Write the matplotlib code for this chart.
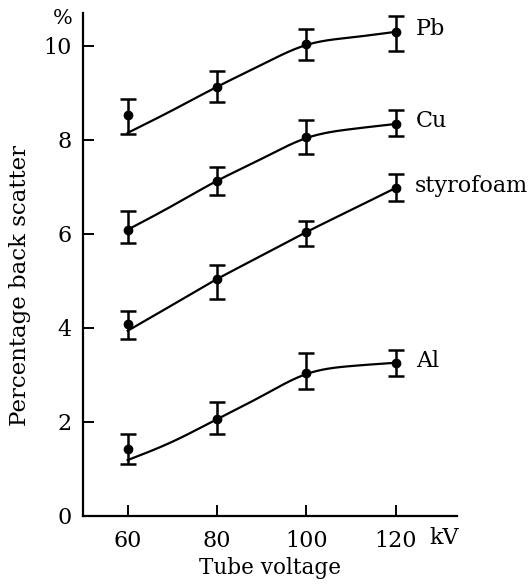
import numpy as np
import matplotlib
matplotlib.use("Agg")
import matplotlib.pyplot as plt

# ---- data ----
voltage = [60, 80, 100, 120]
materials = ["Pb", "Cu", "styrofoam", "Al"]

pb_val = [8.53, 9.13, 10.04, 10.30]
pb_lo = [8.13, 8.81, 9.70, 9.89]
pb_hi = [8.87, 9.47, 10.36, 10.64]

cu_val = [6.09, 7.13, 8.06, 8.34]
cu_lo = [5.81, 6.83, 7.70, 8.09]
cu_hi = [6.49, 7.43, 8.43, 8.64]

st_val = [4.09, 5.04, 6.04, 6.98]
st_lo = [3.77, 4.62, 5.74, 6.70]
st_hi = [4.36, 5.34, 6.28, 7.28]

al_val = [1.43, 2.06, 3.04, 3.26]
al_lo = [1.11, 1.74, 2.70, 2.98]
al_hi = [1.74, 2.43, 3.47, 3.53]

# fitted curves
curve_x = [60, 70, 80, 90, 100, 110, 120]
pb_curve = [8.15, 8.63, 9.13, 9.60, 10.02, 10.18, 10.30]
cu_curve = [6.09, 6.60, 7.13, 7.60, 8.04, 8.23, 8.34]
st_curve = [3.94, 4.49, 5.04, 5.54, 6.04, 6.51, 6.98]
al_curve = [1.19, 1.58, 2.06, 2.55, 3.02, 3.19, 3.26]

y_ticks = [0, 2, 4, 6, 8, 10]
x_ticks = [60, 80, 100, 120]


def natural_spline(x, y, xs):
    """Natural cubic spline used only to draw the smooth fitted curves."""
    x = np.asarray(x, float)
    y = np.asarray(y, float)
    n = len(x)
    h = np.diff(x)
    A = np.zeros((n, n))
    b = np.zeros(n)
    A[0, 0] = 1
    A[-1, -1] = 1
    for i in range(1, n - 1):
        A[i, i - 1] = h[i - 1]
        A[i, i] = 2 * (h[i - 1] + h[i])
        A[i, i + 1] = h[i]
        b[i] = 6 * ((y[i + 1] - y[i]) / h[i] - (y[i] - y[i - 1]) / h[i - 1])
    M = np.linalg.solve(A, b)
    out = np.empty(len(xs))
    for j, xv in enumerate(xs):
        k = int(np.clip(np.searchsorted(x, xv, side="right") - 1, 0, n - 2))
        a = x[k + 1] - xv
        c = xv - x[k]
        out[j] = (M[k] * a**3 + M[k + 1] * c**3) / (6 * h[k]) \
            + (y[k] / h[k] - M[k] * h[k] / 6) * a \
            + (y[k + 1] / h[k] - M[k + 1] * h[k] / 6) * c
    return out


plt.rcParams["font.family"] = ["DejaVu Serif"]

fig = plt.figure(figsize=(5.28, 5.87), dpi=100)
ax = fig.add_axes([83 / 528, 1 - 516 / 587, (457 - 83) / 528, (516 - 13) / 587])

series = [
    (pb_val, pb_lo, pb_hi, pb_curve),
    (cu_val, cu_lo, cu_hi, cu_curve),
    (st_val, st_lo, st_hi, st_curve),
    (al_val, al_lo, al_hi, al_curve),
]
label_pos = {"Pb": (124.5, 10.35), "Cu": (124.5, 8.4), "styrofoam": (124.3, 7.03), "Al": (124.5, 3.3)}

xs = np.linspace(curve_x[0], curve_x[-1], 300)
for name, (val, lo, hi, curve) in zip(materials, series):
    val = np.array(val)
    yerr = [val - np.array(lo), np.array(hi) - val]
    ax.errorbar(voltage, val, yerr=yerr, fmt="o", color="black", ms=6,
                elinewidth=1.8, capsize=6, capthick=1.8, zorder=3)
    ax.plot(xs, natural_spline(curve_x, curve, xs), color="black", lw=1.6, zorder=2)
    lx, ly = label_pos[name]
    ax.text(lx, ly, name, fontsize=16, va="center", ha="left")

ax.set_xlim(50, 133.7)
ax.set_ylim(0, 10.7)
ax.set_xticks(x_ticks)
ax.set_xticklabels([str(v) for v in x_ticks])
ax.set_yticks(y_ticks)
ax.set_yticklabels([str(v) for v in y_ticks])

for s in ["top", "right"]:
    ax.spines[s].set_visible(False)
for s in ["left", "bottom"]:
    ax.spines[s].set_linewidth(1.6)

ax.tick_params(axis="both", direction="in", length=8, width=1.4, labelsize=16)
ax.tick_params(axis="x", pad=10)
ax.tick_params(axis="y", pad=8)

ax.text(127.6, -0.47, "kV", fontsize=16, ha="left", va="center")
ax.set_xlabel("Tube voltage", fontsize=15.5, labelpad=4)
ax.set_ylabel("Percentage back scatter", fontsize=16.5)
ax.yaxis.set_label_coords(-0.138, 0.459)
fig.text(63 / 528, 1 - 18 / 587, "%", fontsize=15, ha="center", va="center")

fig.savefig("out.png", dpi=100)
